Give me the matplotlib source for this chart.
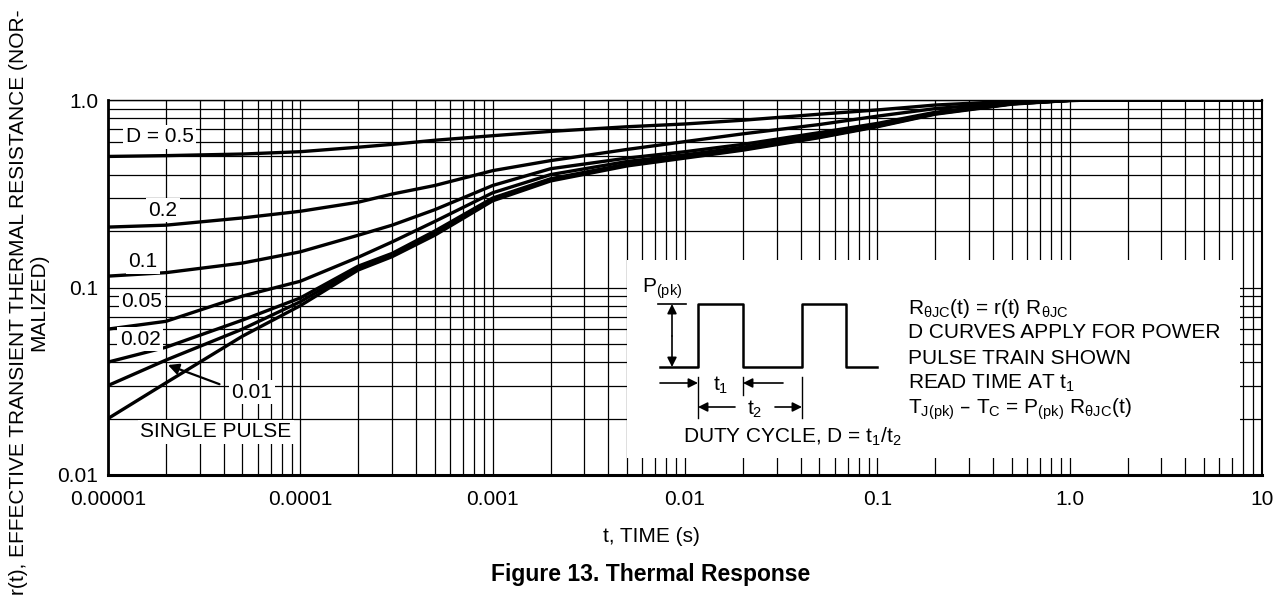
import numpy as np
import matplotlib
matplotlib.use("Agg")
import matplotlib.pyplot as plt
from matplotlib.patches import Rectangle

plt.rcParams['font.family'] = ['Liberation Sans', 'DejaVu Sans']
plt.rcParams['mathtext.default'] = 'regular'

# time axis (s) and normalized transient thermal resistance per duty cycle
t_vals = [1e-5, 2e-5, 5e-5, 1e-4, 2e-4, 3e-4, 5e-4, 1e-3, 2e-3, 5e-3, 1e-2,
          2e-2, 5e-2, 0.1, 0.2, 0.5, 1.0, 2.0, 5.0, 10.0]
r_d05 = [0.50, 0.505, 0.515, 0.53, 0.56, 0.58, 0.61, 0.645, 0.68, 0.72, 0.745,
         0.78, 0.84, 0.885, 0.94, 0.985, 1.0, 1.0, 1.0, 1.0]
r_d02 = [0.21, 0.215, 0.235, 0.255, 0.285, 0.315, 0.35, 0.42, 0.475, 0.545, 0.60,
         0.66, 0.74, 0.82, 0.90, 0.97, 1.0, 1.0, 1.0, 1.0]
r_d01 = [0.115, 0.12, 0.135, 0.155, 0.19, 0.215, 0.26, 0.35, 0.43, 0.49, 0.53,
         0.58, 0.67, 0.75, 0.86, 0.96, 0.995, 1.0, 1.0, 1.0]
r_d005 = [0.06, 0.066, 0.09, 0.108, 0.145, 0.175, 0.225, 0.32, 0.40, 0.47, 0.51,
          0.56, 0.65, 0.74, 0.85, 0.96, 0.995, 1.0, 1.0, 1.0]
r_d002 = [0.04, 0.048, 0.067, 0.088, 0.13, 0.152, 0.20, 0.30, 0.38, 0.455, 0.50,
          0.55, 0.64, 0.73, 0.85, 0.955, 0.995, 1.0, 1.0, 1.0]
r_d001 = [0.03, 0.041, 0.06, 0.084, 0.127, 0.149, 0.195, 0.295, 0.375, 0.45, 0.495,
          0.545, 0.635, 0.725, 0.845, 0.955, 0.995, 1.0, 1.0, 1.0]
r_single = [0.02, 0.031, 0.055, 0.08, 0.124, 0.146, 0.19, 0.29, 0.37, 0.445, 0.49,
            0.54, 0.63, 0.72, 0.84, 0.95, 0.995, 1.0, 1.0, 1.0]

curves = [r_d05, r_d02, r_d01, r_d005, r_d002, r_d001, r_single]

x_ticks = [1e-5, 1e-4, 1e-3, 1e-2, 0.1, 1.0, 10.0]
x_ticklabels = ['0.00001', '0.0001', '0.001', '0.01', '0.1', '1.0', '10']
y_ticks = [0.01, 0.1, 1.0]
y_ticklabels = ['0.01', '0.1', '1.0']

W, H = 1274, 604
fig = plt.figure(figsize=(W / 100, H / 100), dpi=100)
ax = fig.add_axes([108 / W, (H - 475) / H, 1154 / W, 375 / H])

for r in curves:
    ax.plot(t_vals, r, color='black', lw=2.4, zorder=3, solid_capstyle='butt')

ax.set_xscale('log')
ax.set_yscale('log')
ax.set_xlim(1e-5, 10)
ax.set_ylim(0.01, 1.0)
ax.set_xticks(x_ticks)
ax.set_xticklabels(x_ticklabels)
ax.set_yticks(y_ticks)
ax.set_yticklabels(y_ticklabels)
ax.xaxis.set_minor_locator(matplotlib.ticker.LogLocator(base=10, subs=np.arange(2, 10)))
ax.yaxis.set_minor_locator(matplotlib.ticker.LogLocator(base=10, subs=np.arange(2, 10)))
ax.xaxis.set_minor_formatter(matplotlib.ticker.NullFormatter())
ax.yaxis.set_minor_formatter(matplotlib.ticker.NullFormatter())
ax.tick_params(which='both', length=0, labelsize=15)
ax.tick_params(axis='x', pad=11)
ax.tick_params(axis='y', pad=7)
ax.grid(True, which='both', color='black', lw=0.9)
ax.set_axisbelow(True)
ax.spines['left'].set_linewidth(2.0)
ax.spines['bottom'].set_linewidth(2.2)
ax.spines['right'].set_linewidth(1.5)
ax.spines['top'].set_linewidth(1.0)

# curve labels with white backgrounds
box = dict(facecolor='white', edgecolor='none', pad=2)
lab_kw = dict(fontsize=15, ha='center', va='center', bbox=box, zorder=5)
ax.text(1.86e-5, 0.635, 'D = 0.5', **lab_kw)
ax.text(1.93e-5, 0.259, '0.2', **lab_kw)
ax.text(1.52e-5, 0.137, '0.1', **lab_kw)
ax.text(1.50e-5, 0.0837, '0.05', **lab_kw)
ax.text(1.47e-5, 0.0531, '0.02', **lab_kw)
ax.text(5.6e-5, 0.0277, '0.01', **lab_kw)
ax.text(3.64e-5, 0.0170, 'SINGLE PULSE', **lab_kw)
ax.annotate('', xy=(2.05e-5, 0.0386), xytext=(3.8e-5, 0.0305),
            arrowprops=dict(arrowstyle='-|>', color='black', lw=1.6,
                            mutation_scale=16, shrinkA=0, shrinkB=0), zorder=5)

# overlay in pixel coordinates for the pulse-train sketch
ov = fig.add_axes([0, 0, 1, 1], zorder=10)
ov.set_xlim(0, W)
ov.set_ylim(H, 0)
ov.axis('off')
ov.patch.set_alpha(0)
ov.add_patch(Rectangle((627, 260), 613, 198, facecolor='white', edgecolor='none'))

wave_x = [660, 698, 698, 743, 743, 802, 802, 846, 846, 877]
wave_y = [367, 367, 304, 304, 367, 367, 304, 304, 367, 367]
ov.plot(wave_x, wave_y, color='black', lw=1.8)
ov.plot([658, 686], [304, 304], color='black', lw=1.2)
arr = dict(arrowstyle='-|>', color='black', lw=1.2, mutation_scale=14, shrinkA=0, shrinkB=0)
ov.annotate('', xy=(672, 304), xytext=(672, 336), arrowprops=arr)
ov.annotate('', xy=(672, 367), xytext=(672, 336), arrowprops=arr)
ov.annotate('', xy=(698, 383), xytext=(660, 383), arrowprops=arr)
ov.annotate('', xy=(743, 383), xytext=(783, 383), arrowprops=arr)
ov.annotate('', xy=(698, 407), xytext=(735, 407), arrowprops=arr)
ov.annotate('', xy=(802, 407), xytext=(775, 407), arrowprops=arr)
ov.plot([698, 698], [377, 418], color='black', lw=1.0)
ov.plot([743, 743], [377, 395], color='black', lw=1.0)
ov.plot([802, 802], [377, 418], color='black', lw=1.0)

txt = dict(fontsize=15, color='black')
ov.text(642, 289, 'P$_{(pk)}$', ha='left', va='center', **txt)
ov.text(721, 385, 't$_1$', ha='center', va='center', **txt)
ov.text(755, 409, 't$_2$', ha='center', va='center', **txt)
ov.text(792, 437, 'DUTY CYCLE, D = t$_1$/t$_2$', ha='center', va='center', **txt)

notes = ['R$_{θJC}$(t) = r(t) R$_{θJC}$',
         'D CURVES APPLY FOR POWER',
         'PULSE TRAIN SHOWN',
         'READ TIME AT t$_1$',
         'T$_{J(pk)}$ – T$_C$ = P$_{(pk)}$ R$_{θJC}$(t)']
note_y = [308, 333, 358, 383, 409]
for s, yy in zip(notes, note_y):
    ov.text(908, yy, s, ha='left', va='center', **txt)

# axis titles and caption
ov.text(651, 537, 't, TIME (s)', ha='center', va='center', **txt)
ov.text(651, 574, 'Figure 13. Thermal Response', ha='center', va='center',
        fontsize=16.5, fontweight='bold')
ov.text(29, 302, 'r(t), EFFECTIVE TRANSIENT THERMAL RESISTANCE (NOR-\nMALIZED)',
        rotation=90, ha='center', va='center', multialignment='center',
        fontsize=15, linespacing=1.1)

fig.savefig('out.png', dpi=100)
